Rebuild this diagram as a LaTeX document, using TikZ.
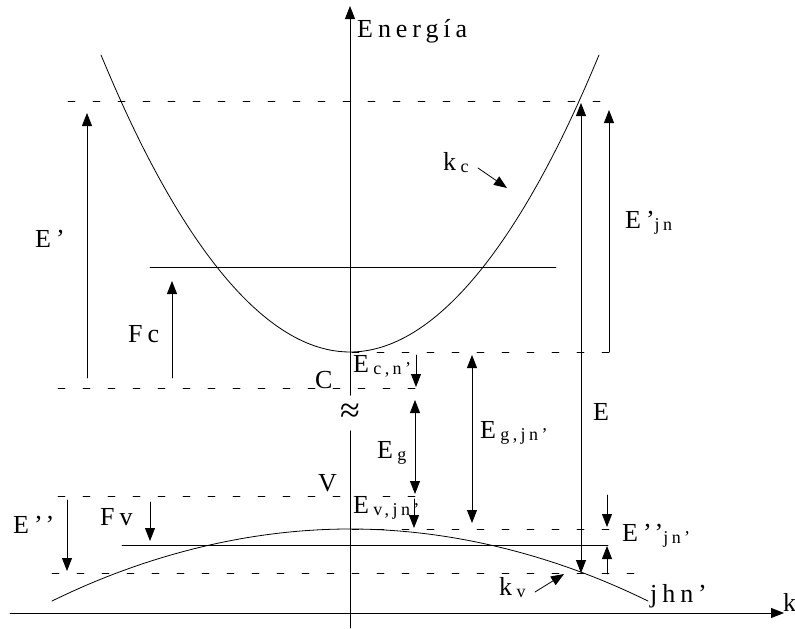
\documentclass[tikz,border=0pt]{standalone}
\usepackage{fontspec}
\setmainfont{Liberation Serif}
\newfontfamily\bandfont[LetterSpace=19]{Liberation Serif}
\usetikzlibrary{arrows.meta}
\newcommand\bsub[1]{\raisebox{-2pt}{\fontsize{18}{18}\selectfont #1}}

\begin{document}
\begin{tikzpicture}[x=1pt, y=-1pt, >={Triangle[length=13pt,width=10pt]},
    line cap=round, line join=round,
    lbl/.style={anchor=base west, inner sep=0pt,
                font=\bandfont\fontsize{26}{30}\selectfont},
    levelline/.style={line width=0.7pt, dash pattern=on 7pt off 18pt},
    band/.style={line width=0.8pt}]

  \useasboundingbox (0,0) rectangle (795,629);

  % ── axes ─────────────────────────────────────────────────────────────────

  \node[inner sep=0pt, minimum height=35pt,
        font=\fontsize{36}{36}\selectfont] (approx) at (350,413) {≈};
  \coordinate (ytop) at (350,6);
  \coordinate (ybot) at (350,628);
  \coordinate (xleft) at (10,613);
  \coordinate (xright) at (784,613);

  \draw[band, ->] (approx.north) -- (ytop);
  \draw[band] (approx.south) -- (ybot);
  \draw[band, ->] (xleft) -- (xright);

  \node[lbl] (energy) at (357,37) {Energía};
  \node[lbl] (kaxis) at (783,611) {k};

  % ── bands ────────────────────────────────────────────────────────────────

  \draw[band] (101,55) parabola bend (350,352) (599,55);
  \draw[band] (52,601) parabola bend (350,529) (648,601);

  % levels
  \draw[levelline] (68,101) -- (612,101);
  \draw[levelline] (352,352) -- (612,352);
  \draw[levelline] (58,388) -- (424,388);
  \draw[levelline] (58,496) -- (424,496);
  \draw[levelline] (352,529) -- (610,529);
  \draw[levelline] (52,573) -- (648,573);

  % quasi-Fermi levels
  \draw[band] (150,267) -- (556,267);
  \draw[band] (122,545) -- (608,545);

  % ── labels ───────────────────────────────────────────────────────────────

  \node[lbl] (Eprime) at (35,247) {E’};
  \node[lbl] (Fc) at (128,342) {Fc};
  \node[lbl] (kc) at (443,170) {k\,\bsub{c}};
  \node[lbl] (Epjn) at (625,228) {E’\bsub{jn}};
  \node[lbl] (C) at (315,388) {C};
  \node[lbl] (Ecn) at (353,372) {E\,\bsub{c,n’}};
  \node[lbl] (Eg) at (377,458) {E\,\bsub{g}};
  \node[lbl] (Egjn) at (480,438) {E\,\bsub{g,jn’}};
  \node[lbl] (E) at (593,420) {E};
  \node[lbl] (V) at (318,491) {V};
  \node[lbl] (Evjn) at (353,513) {E\,\bsub{v,jn’}};
  \node[lbl] (Epp) at (13,533) {E’’};
  \node[lbl] (Fv) at (100,525) {Fv};
  \node[lbl] (Eppjn) at (622,541) {E’’\bsub{jn’}};
  \node[lbl] (kv) at (499,595) {k\,\bsub{v}};
  \node[lbl] (jhn) at (650,602) {jhn’};

  % ── arrows ───────────────────────────────────────────────────────────────

  \coordinate (Ep-lo) at (87,378);    \coordinate (Ep-hi) at (87,113);
  \coordinate (Fc-lo) at (172,378);   \coordinate (Fc-hi) at (172,281);
  \coordinate (E-hi) at (581,103);    \coordinate (E-lo) at (581,573);
  \coordinate (Epjn-lo) at (609,352); \coordinate (Epjn-hi) at (609,110);
  \coordinate (kc-a) at (478,168);    \coordinate (kc-b) at (507,188);
  \coordinate (Ecn-a) at (416,355);   \coordinate (Ecn-b) at (416,387);
  \coordinate (Eg-hi) at (415,400);   \coordinate (Eg-lo) at (415,494);
  \coordinate (Evjn-a) at (414,499);  \coordinate (Evjn-b) at (414,528);
  \coordinate (Egjn-hi) at (472,355); \coordinate (Egjn-lo) at (472,523);
  \coordinate (Eppjn-a) at (607,495); \coordinate (Eppjn-b) at (607,527);
  \coordinate (Eppjn-c) at (607,574); \coordinate (Eppjn-d) at (607,546);
  \coordinate (Epp-a) at (67,500);    \coordinate (Epp-b) at (67,571);
  \coordinate (Fv-a) at (150,502);    \coordinate (Fv-b) at (150,541);
  \coordinate (kv-a) at (535,592);    \coordinate (kv-b) at (564,574);

  \draw[band, ->] (Ep-lo) -- (Ep-hi);
  \draw[band, ->] (Fc-lo) -- (Fc-hi);
  \draw[band, <->] (E-hi) -- (E-lo);
  \draw[band, ->] (Epjn-lo) -- (Epjn-hi);
  \draw[band, ->] (kc-a) -- (kc-b);
  \draw[band, ->] (Ecn-a) -- (Ecn-b);
  \draw[band, <->] (Eg-hi) -- (Eg-lo);
  \draw[band, ->] (Evjn-a) -- (Evjn-b);
  \draw[band, <->] (Egjn-hi) -- (Egjn-lo);
  \draw[band, ->] (Eppjn-a) -- (Eppjn-b);
  \draw[band, ->] (Eppjn-c) -- (Eppjn-d);
  \draw[band, ->] (Epp-a) -- (Epp-b);
  \draw[band, ->] (Fv-a) -- (Fv-b);
  \draw[band, ->] (kv-a) -- (kv-b);

\end{tikzpicture}
\end{document}
